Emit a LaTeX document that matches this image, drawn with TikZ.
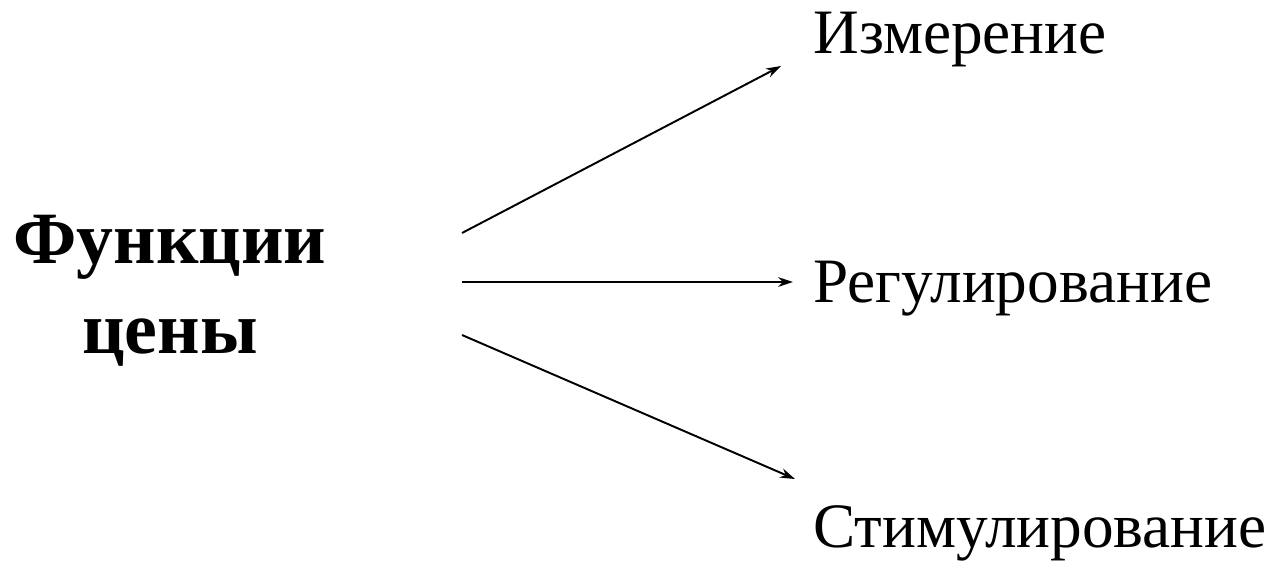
\documentclass[tikz,border=0pt]{standalone}
\usepackage{fontspec}
\setmainfont{Liberation Serif}
\usetikzlibrary{arrows.meta}
\begin{document}
\begin{tikzpicture}[x=0.02cm,y=-0.02cm]
\useasboundingbox (0,0) rectangle (1275,561);
\tikzset{func/.style={anchor=base west,inner sep=0pt,font=\fontsize{36}{42}\selectfont},
	head/.style={anchor=base,inner sep=0pt,font=\fontsize{42}{50}\bfseries\selectfont},
	arr/.style={line width=1.1pt,-{Stealth[length=8.5pt,width=5.5pt]}}}
\node[head] (F1) at (170,263) {Функции};
\node[head] (F2) at (170,353) {цены};
\node[func] (I) at (813,53) {Измерение};
\node[func] (R) at (813,302) {Регулирование};
\node[func] (S) at (813,547) {Стимулирование};
\coordinate (a1) at (462,233);
\coordinate (a2) at (462,282);
\coordinate (a3) at (462,335);
\coordinate (b1) at (781,66);
\coordinate (b2) at (793,282);
\coordinate (b3) at (795,479);
\draw[arr] (a1) -- (b1);
\draw[arr] (a2) -- (b2);
\draw[arr] (a3) -- (b3);
\end{tikzpicture}
\end{document}
